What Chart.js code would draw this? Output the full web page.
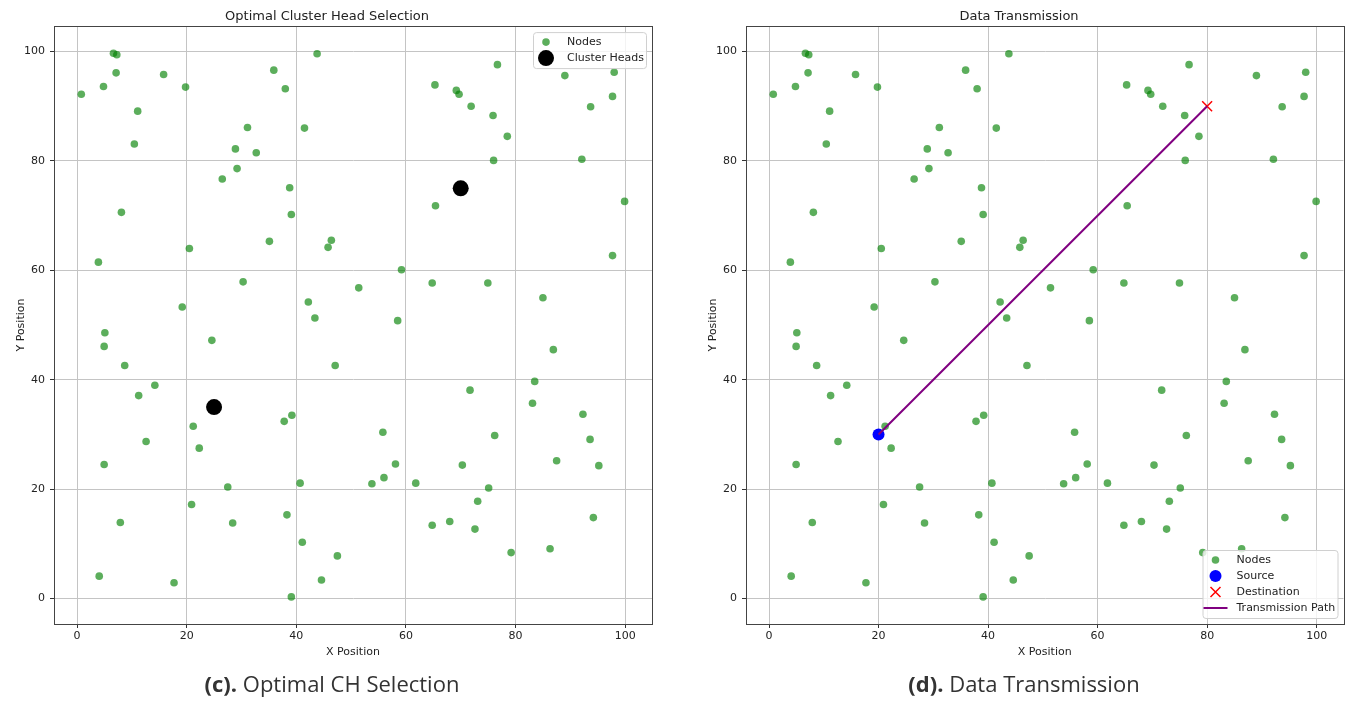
<!DOCTYPE html>
<html>
<head>
<meta charset="utf-8">
<script src="https://cdn.jsdelivr.net/npm/chart.js@4.4.1/dist/chart.umd.min.js"></script>
<style>
  body { margin: 0; background: #fff; width: 1353px; height: 701px; position: relative; overflow: hidden; }
  .panel { position: absolute; top: 0; width: 660px; height: 670px; }
  .caption { position: absolute; top: 670px; text-align: center; font-family: "Open Sans", "Noto Sans", sans-serif; font-size: 22px; line-height: 26px; color: #333; }
</style>
</head>
<body>
<div class="panel" style="left:0"><canvas id="chCanvas"></canvas></div>
<div class="panel" style="left:692px"><canvas id="txCanvas"></canvas></div>
<div class="caption" style="left:0;width:664px"><b>(c).</b> Optimal CH Selection</div>
<div class="caption" style="left:724px;width:600px"><b>(d).</b> Data Transmission</div>
<script>
// sensor node positions (same field in both panels)
var nodeX = [6.65, 7.26, 7.13, 15.8, 4.83, 19.8, 0.78, 35.9, 38.0, 43.8,
             11.07, 10.46, 31.1, 41.5, 28.9, 32.7, 29.2, 26.5, 38.8, 39.1,
             8.1, 20.5, 35.1, 46.4, 45.8, 3.9, 30.3, 19.2, 42.2, 43.4,
             76.7, 89.0, 98.0, 97.7, 65.3, 69.2, 69.7, 71.9, 75.9, 93.7,
             78.5, 76.0, 92.1, 65.4, 99.9, 97.7, 59.2, 51.4, 64.8, 74.95,
             85.0, 58.5, 5.08, 4.95, 24.6, 47.1, 8.7, 14.2, 11.25, 39.2,
             37.8, 21.2, 22.3, 12.6, 4.95, 27.5, 40.7, 20.9, 38.3, 7.9,
             28.4, 41.1, 47.5, 44.6, 4.05, 17.7, 39.1, 86.9, 83.5, 71.7,
             83.1, 92.3, 93.6, 55.8, 76.2, 87.5, 95.2, 58.1, 70.3, 53.8,
             56.0, 61.8, 75.1, 73.1, 94.2, 64.8, 68.0, 72.6, 86.3, 79.2];
var nodeY = [99.7, 99.4, 96.1, 95.8, 93.6, 93.5, 92.2, 96.6, 93.2, 99.6,
             89.1, 83.1, 86.1, 86.0, 82.2, 81.5, 78.6, 76.7, 75.1, 70.2,
             70.6, 64.0, 65.3, 65.5, 64.2, 61.5, 57.9, 53.3, 54.2, 51.3,
             97.6, 95.6, 96.2, 91.8, 93.9, 92.9, 92.2, 90.0, 88.3, 89.9,
             84.5, 80.1, 80.3, 71.8, 72.6, 62.7, 60.1, 56.8, 57.7, 57.7,
             55.0, 50.8, 48.6, 46.1, 47.2, 42.6, 42.6, 39.0, 37.1, 33.5,
             32.4, 31.5, 27.5, 28.7, 24.5, 20.4, 21.1, 17.2, 15.3, 13.9,
             13.8, 10.3, 7.8, 3.4, 4.1, 2.9, 0.3, 45.5, 39.7, 38.1,
             35.7, 33.7, 29.1, 30.4, 29.8, 25.2, 24.3, 24.6, 24.4, 21.0,
             22.1, 21.1, 20.2, 17.8, 14.8, 13.4, 14.1, 12.7, 9.1, 8.4];

var headX = [25, 70];
var headY = [35, 75];

var sourceX = [20];
var sourceY = [30];
var destX = [80];
var destY = [90];

var xTicks = [0, 20, 40, 60, 80, 100];
var yTicks = [0, 20, 40, 60, 80, 100];
var xRange = [-4.2, 104.9];
var yRange = [-4.65, 104.65];

function toPoints(xs, ys) {
    return xs.map(function (x, i) { return { x: x, y: ys[i] }; });
}

var smallFont = { family: 'DejaVu Sans', size: 11 };
var textColor = '#222';

// box around the plot area + a matplotlib-like legend drawn inside it
var framePlugin = {
    id: 'frame',
    afterDatasetsDraw: function (chart) {
        var a = chart.chartArea, ctx = chart.ctx;
        ctx.save();
        ctx.strokeStyle = '#444';
        ctx.lineWidth = 1;
        ctx.strokeRect(Math.round(a.left) + 0.5, Math.round(a.top) + 0.5,
                       Math.round(a.right - a.left), Math.round(a.bottom - a.top));
        ctx.restore();
    }
};

var boxLegendPlugin = {
    id: 'boxLegend',
    afterDraw: function (chart, args, opts) {
        if (!opts.items) return;
        var a = chart.chartArea, ctx = chart.ctx;
        var n = opts.items.length;
        var h = (n - 1) * 16 + 20;
        var w = opts.width;
        var left = a.right - opts.inset - w;
        var top = opts.corner === 'top' ? a.top + opts.inset : a.bottom - opts.inset - h;
        ctx.save();
        ctx.fillStyle = 'rgba(255,255,255,0.8)';
        ctx.strokeStyle = '#d0d0d0';
        ctx.lineWidth = 1;
        ctx.beginPath();
        ctx.roundRect(left + 0.5, top + 0.5, w, h, 3);
        ctx.fill();
        ctx.stroke();
        opts.items.forEach(function (it, i) {
            var cy = top + 10 + i * 16;
            var cx = left + 13;
            if (it.kind === 'dot') {
                ctx.fillStyle = it.color;
                ctx.beginPath();
                ctx.arc(cx, cy, it.r, 0, Math.PI * 2);
                ctx.fill();
            } else if (it.kind === 'cross') {
                ctx.strokeStyle = it.color;
                ctx.lineWidth = 1.5;
                ctx.beginPath();
                ctx.moveTo(cx - 5, cy - 5); ctx.lineTo(cx + 5, cy + 5);
                ctx.moveTo(cx + 5, cy - 5); ctx.lineTo(cx - 5, cy + 5);
                ctx.stroke();
            } else if (it.kind === 'line') {
                ctx.strokeStyle = it.color;
                ctx.lineWidth = 2;
                ctx.beginPath();
                ctx.moveTo(cx - 12, cy); ctx.lineTo(cx + 12, cy);
                ctx.stroke();
            }
            ctx.fillStyle = textColor;
            ctx.font = '11px "DejaVu Sans"';
            ctx.textBaseline = 'middle';
            ctx.fillText(it.label, left + 34, cy + 0.5);
        });
        ctx.restore();
    }
};

function makeOptions(titleText, legendOpts) {
    return {
        responsive: false,
        animation: false,
        events: [],
        layout: { padding: { left: 0, right: 6, top: 0, bottom: 0 } },
        plugins: {
            legend: { display: false },
            tooltip: { enabled: false },
            title: {
                display: true,
                text: titleText,
                color: textColor,
                font: { family: 'DejaVu Sans', size: 13, weight: 'normal' },
                padding: { top: 8.5, bottom: 2 }
            },
            boxLegend: legendOpts
        },
        scales: {
            x: {
                type: 'linear',
                min: xRange[0],
                max: xRange[1],
                afterBuildTicks: function (s) { s.ticks = xTicks.map(function (v) { return { value: v }; }); },
                afterFit: function (s) { s.height = 46; },
                grid: { color: '#c4c4c4', lineWidth: 1, tickColor: '#333', tickLength: 4 },
                border: { color: '#444' },
                ticks: { font: smallFont, color: textColor, padding: 2, maxRotation: 0, autoSkip: false },
                title: { display: true, text: 'X Position', font: smallFont, color: textColor, padding: { top: 0, bottom: 11.4 } }
            },
            y: {
                type: 'linear',
                min: yRange[0],
                max: yRange[1],
                afterBuildTicks: function (s) { s.ticks = yTicks.map(function (v) { return { value: v }; }); },
                afterFit: function (s) { s.width = 54; },
                grid: { color: '#c4c4c4', lineWidth: 1, tickColor: '#333', tickLength: 4 },
                border: { color: '#444' },
                ticks: { font: smallFont, color: textColor, padding: 5, autoSkip: false },
                title: { display: true, text: 'Y Position', font: smallFont, color: textColor, padding: { top: 15, bottom: 0 } }
            }
        }
    };
}

var nodeColor = 'rgba(0,128,0,0.64)';

function nodesDataset() {
    return {
        label: 'Nodes',
        data: toPoints(nodeX, nodeY),
        backgroundColor: nodeColor,
        borderWidth: 0,
        pointRadius: 3.8,
        order: 5
    };
}

var c1 = document.getElementById('chCanvas');
c1.width = 660; c1.height = 670;
new Chart(c1.getContext('2d'), {
    type: 'scatter',
    data: {
        datasets: [
            nodesDataset(),
            {
                label: 'Cluster Heads',
                data: toPoints(headX, headY),
                backgroundColor: '#000',
                borderWidth: 0,
                pointRadius: 8,
                order: 1
            }
        ]
    },
    options: makeOptions('Optimal Cluster Head Selection', {
        corner: 'top', inset: 6, width: 113,
        items: [
            { kind: 'dot', color: nodeColor, r: 3.8, label: 'Nodes' },
            { kind: 'dot', color: '#000', r: 8, label: 'Cluster Heads' }
        ]
    }),
    plugins: [framePlugin, boxLegendPlugin]
});

var c2 = document.getElementById('txCanvas');
c2.width = 660; c2.height = 670;
new Chart(c2.getContext('2d'), {
    type: 'scatter',
    data: {
        datasets: [
            nodesDataset(),
            {
                label: 'Source',
                data: toPoints(sourceX, sourceY),
                backgroundColor: '#0000ff',
                borderWidth: 0,
                pointRadius: 6,
                order: 3
            },
            {
                label: 'Destination',
                data: toPoints(destX, destY),
                pointStyle: 'crossRot',
                borderColor: '#ff0000',
                borderWidth: 1.5,
                pointRadius: 7,
                order: 2
            },
            {
                label: 'Transmission Path',
                data: toPoints(sourceX.concat(destX), sourceY.concat(destY)),
                showLine: true,
                borderColor: '#800080',
                borderWidth: 2,
                pointRadius: 0,
                order: 0
            }
        ]
    },
    options: makeOptions('Data Transmission', {
        corner: 'bottom', inset: 6, width: 135,
        items: [
            { kind: 'dot', color: nodeColor, r: 3.8, label: 'Nodes' },
            { kind: 'dot', color: '#0000ff', r: 6, label: 'Source' },
            { kind: 'cross', color: '#ff0000', label: 'Destination' },
            { kind: 'line', color: '#800080', label: 'Transmission Path' }
        ]
    }),
    plugins: [framePlugin, boxLegendPlugin]
});
</script>
</body>
</html>
